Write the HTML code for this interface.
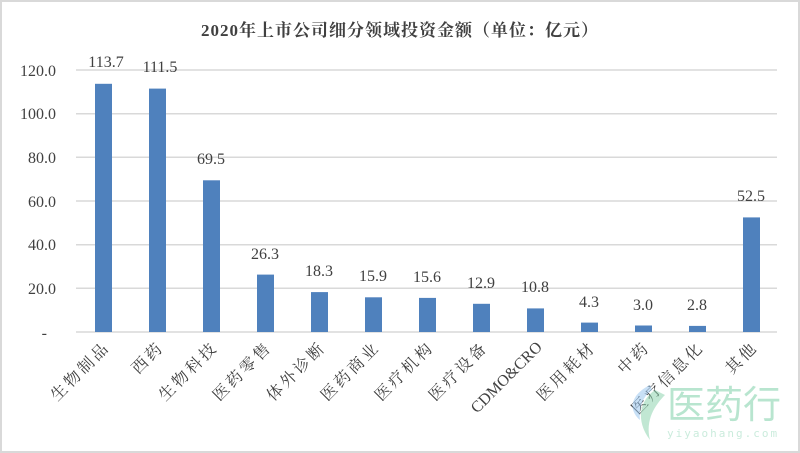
<!DOCTYPE html>
<html><head><meta charset="utf-8"><style>
html,body{margin:0;padding:0;background:#fff}
svg{display:block}
</style></head><body>
<svg width="800" height="453" viewBox="0 0 800 453" xmlns="http://www.w3.org/2000/svg">
<rect x="1" y="1" width="798" height="451" fill="#fff" stroke="#d9d9d9" stroke-width="2"/>
<text x="400" y="36" text-anchor="middle" font-family="'Liberation Serif','Noto Serif CJK SC',serif" font-size="17" font-weight="bold" letter-spacing="1" fill="#404040">2020年上市公司细分领域投资金额（单位：亿元）</text>
<g stroke="#d9d9d9" stroke-width="1.5">
<line x1="76" x2="777" y1="70" y2="70"/>
<line x1="76" x2="777" y1="113.7" y2="113.7"/>
<line x1="76" x2="777" y1="157.3" y2="157.3"/>
<line x1="76" x2="777" y1="201" y2="201"/>
<line x1="76" x2="777" y1="244.7" y2="244.7"/>
<line x1="76" x2="777" y1="288.3" y2="288.3"/>
<line x1="76" x2="777" y1="332" y2="332"/>
</g>
<g font-family="'Liberation Serif',serif" font-size="16" fill="#404040" text-anchor="end">
<text x="56" y="76">120.0</text><text x="56" y="119">100.0</text><text x="56" y="163">80.0</text>
<text x="56" y="207">60.0</text><text x="56" y="250">40.0</text><text x="56" y="294">20.0</text>
<text x="47" y="338">-</text>
</g>
<g fill="#4f81bd">
<rect x="95" y="83.8" width="17" height="248.2"/>
<rect x="149" y="88.6" width="17" height="243.4"/>
<rect x="203" y="180.3" width="17" height="151.7"/>
<rect x="257" y="274.6" width="17" height="57.4"/>
<rect x="311" y="292.1" width="17" height="39.9"/>
<rect x="365" y="297.3" width="17" height="34.7"/>
<rect x="419" y="297.9" width="17" height="34.1"/>
<rect x="473" y="303.8" width="17" height="28.2"/>
<rect x="527" y="308.4" width="17" height="23.6"/>
<rect x="581" y="322.6" width="17" height="9.4"/>
<rect x="635" y="325.5" width="17" height="6.5"/>
<rect x="689" y="325.9" width="17" height="6.1"/>
<rect x="743" y="217.4" width="17" height="114.6"/>
</g>
<g font-family="'Liberation Serif',serif" font-size="16" fill="#404040" text-anchor="middle">
<text x="106" y="67">113.7</text><text x="160" y="72">111.5</text><text x="211" y="164">69.5</text>
<text x="265" y="259">26.3</text><text x="319" y="276">18.3</text><text x="373" y="281">15.9</text>
<text x="427" y="282">15.6</text><text x="481" y="288">12.9</text><text x="535" y="292">10.8</text>
<text x="589" y="307">4.3</text><text x="643" y="310">3.0</text><text x="697" y="310">2.8</text>
<text x="751" y="201">52.5</text>
</g>
<g font-family="'Liberation Serif','Noto Serif CJK SC',serif" font-size="16" letter-spacing="3" fill="#404040" text-anchor="end">
<text transform="translate(111,348) rotate(-45)">生物制品</text>
<text transform="translate(165,348) rotate(-45)">西药</text>
<text transform="translate(219,348) rotate(-45)">生物科技</text>
<text transform="translate(273,348) rotate(-45)">医药零售</text>
<text transform="translate(327,348) rotate(-45)">体外诊断</text>
<text transform="translate(381,348) rotate(-45)">医药商业</text>
<text transform="translate(435,348) rotate(-45)">医疗机构</text>
<text transform="translate(489,348) rotate(-45)">医疗设备</text>
<text transform="translate(543,348) rotate(-45)" letter-spacing="0">CDMO&amp;CRO</text>
<text transform="translate(597,348) rotate(-45)">医用耗材</text>
<text transform="translate(651,348) rotate(-45)">中药</text>
<text transform="translate(705,348) rotate(-45)">医疗信息化</text>
<text transform="translate(759,348) rotate(-45)">其他</text>
</g>
<g opacity="0.55">
<path d="M655 390 C640 400 635 420 650 440 C645 420 655 405 665 395 Z" fill="#8fd4b0"/>
<path d="M650 385 C630 395 628 410 640 420 C638 405 645 395 652 390 Z" fill="#9cc8f0"/>
<text x="667" y="418" font-family="'Noto Sans CJK SC',sans-serif" font-size="38" fill="#7fd0a8">医药行</text>
<text x="667" y="437" font-family="'DejaVu Sans Mono',monospace" font-size="11" letter-spacing="2" fill="#a0dcc0">yiyaohang.com</text>
</g>
</svg>
</body></html>
